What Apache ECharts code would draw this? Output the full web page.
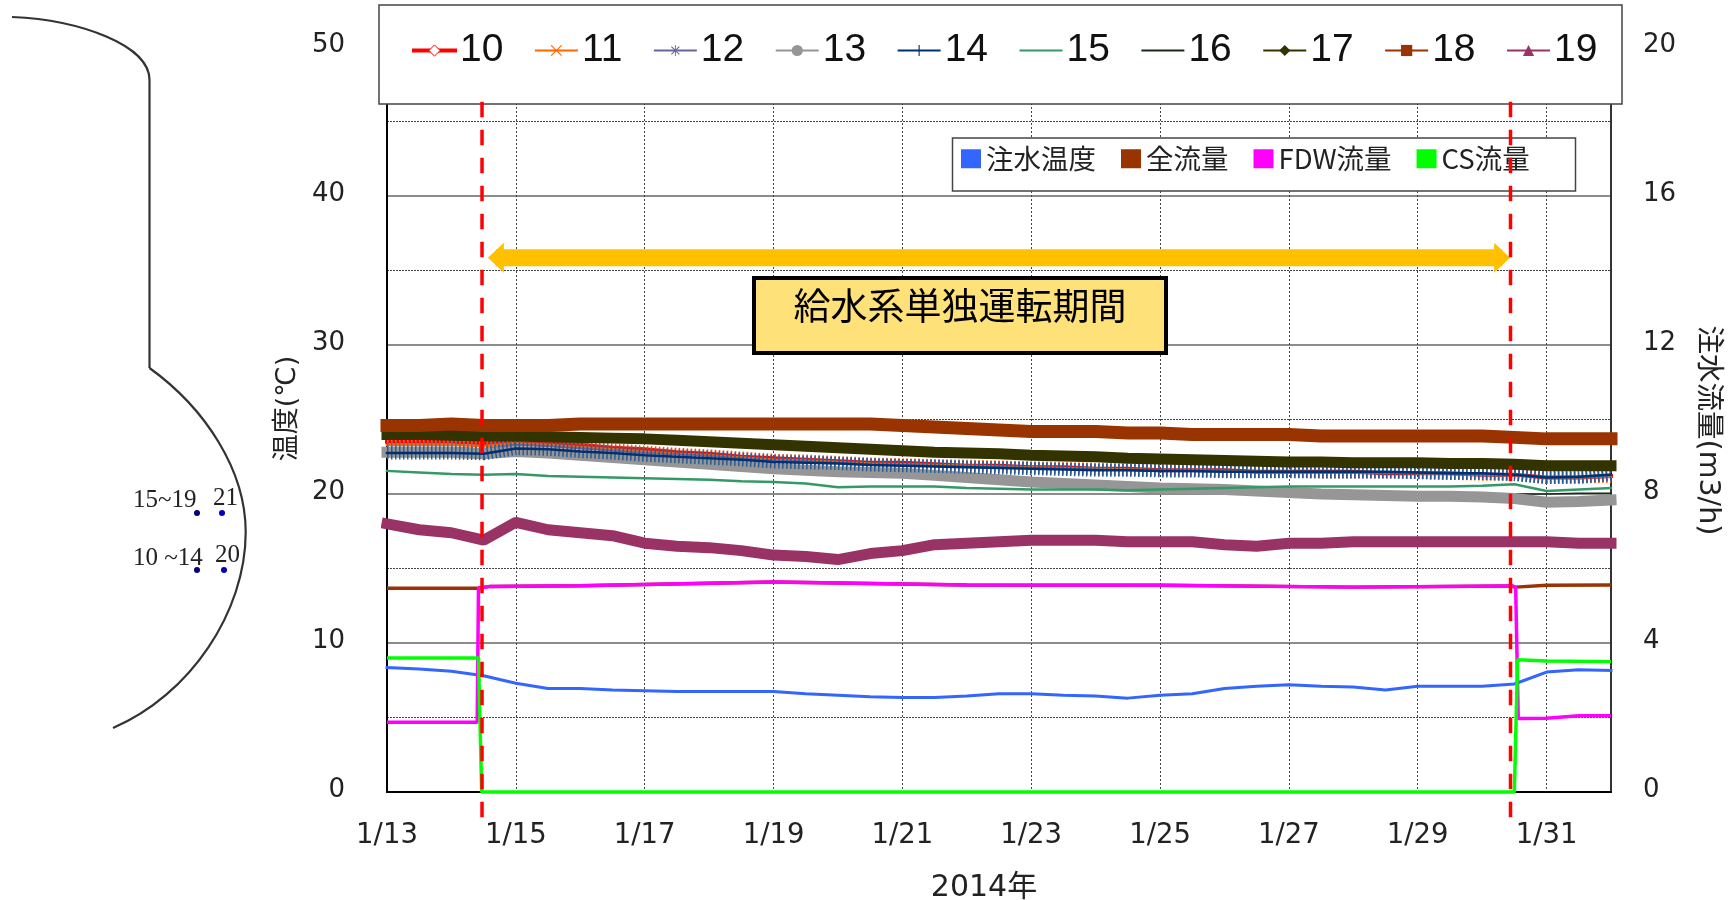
<!DOCTYPE html>
<html>
<head>
<meta charset="utf-8">
<title>給水系単独運転期間</title>
<script src="https://cdn.jsdelivr.net/npm/echarts@6/dist/echarts.min.js"></script>
<style>
  html, body { margin: 0; padding: 0; background: #fff; }
  #chart { width: 1729px; height: 900px; }
</style>
</head>
<body>
<div id="chart"></div>
<script>
// days after 1/13, one reading every half day
var days = [0, 0.5, 1, 1.5, 2, 2.5, 3, 3.5, 4, 4.5, 5, 5.5, 6, 6.5, 7, 7.5, 8, 8.5, 9, 9.5, 10, 10.5, 11, 11.5, 12, 12.5, 13, 13.5, 14, 14.5, 15, 15.5, 16, 16.5, 17, 17.5, 18, 18.5, 19];
var xTickLabels = ['1/13', '1/15', '1/17', '1/19', '1/21', '1/23', '1/25', '1/27', '1/29', '1/31'];

var t10 = [23.5, 23.5, 23.5, 23.4, 23.5, 23.4, 23.3, 23.1, 23.0, 22.8, 22.7, 22.5, 22.4, 22.3, 22.2, 22.1, 22.1, 22.0, 21.9, 21.9, 21.8, 21.8, 21.7, 21.7, 21.6, 21.6, 21.6, 21.5, 21.5, 21.5, 21.5, 21.4, 21.4, 21.4, 21.3, 21.3, 21.1, 21.1, 21.2];
var t11 = [23.3, 23.3, 23.3, 23.2, 23.4, 23.3, 23.15, 23.0, 22.85, 22.7, 22.6, 22.45, 22.3, 22.25, 22.15, 22.05, 22.0, 21.95, 21.9, 21.85, 21.8, 21.75, 21.7, 21.65, 21.6, 21.6, 21.55, 21.5, 21.5, 21.45, 21.45, 21.45, 21.4, 21.35, 21.3, 21.3, 21.1, 21.1, 21.15];
var t12 = [23.1, 23.1, 23.1, 23.0, 23.3, 23.2, 23.05, 22.9, 22.75, 22.65, 22.55, 22.4, 22.25, 22.2, 22.1, 22.0, 21.95, 21.9, 21.85, 21.8, 21.75, 21.7, 21.65, 21.6, 21.6, 21.55, 21.5, 21.5, 21.5, 21.45, 21.45, 21.45, 21.4, 21.35, 21.35, 21.3, 21.1, 21.1, 21.25];
var t13 = [22.8, 22.8, 22.8, 22.7, 22.85, 22.75, 22.6, 22.45, 22.3, 22.15, 22.0, 21.85, 21.7, 21.6, 21.5, 21.45, 21.4, 21.25, 21.1, 20.95, 20.8, 20.7, 20.6, 20.5, 20.4, 20.35, 20.3, 20.2, 20.1, 20.0, 19.95, 19.9, 19.85, 19.85, 19.8, 19.7, 19.45, 19.5, 19.6];
var t14 = [22.75, 22.75, 22.75, 22.7, 23.05, 23.0, 22.85, 22.75, 22.6, 22.5, 22.4, 22.3, 22.15, 22.1, 22.05, 21.95, 21.9, 21.85, 21.8, 21.75, 21.7, 21.65, 21.6, 21.6, 21.55, 21.55, 21.5, 21.5, 21.5, 21.5, 21.5, 21.5, 21.45, 21.4, 21.4, 21.3, 21.1, 21.15, 21.3];
var t15 = [21.55, 21.45, 21.35, 21.3, 21.35, 21.2, 21.15, 21.1, 21.05, 21.0, 20.95, 20.85, 20.8, 20.7, 20.45, 20.5, 20.5, 20.5, 20.4, 20.35, 20.3, 20.3, 20.3, 20.25, 20.3, 20.35, 20.4, 20.45, 20.5, 20.5, 20.5, 20.5, 20.5, 20.5, 20.55, 20.65, 20.2, 20.3, 20.4];
var t16 = [22.9, 22.9, 22.9, 22.8, 22.9, 22.8, 22.7, 22.5, 22.4, 22.2, 22.1, 21.9, 21.8, 21.7, 21.6, 21.5, 21.5, 21.3, 21.2, 21.0, 20.9, 20.8, 20.7, 20.6, 20.5, 20.4, 20.4, 20.3, 20.2, 20.1, 20.1, 20.0, 20.0, 20.0, 20.0, 20.0, 20.0, 20.05, 20.05];
var t17 = [24.0, 24.0, 23.95, 23.9, 23.9, 23.85, 23.8, 23.75, 23.7, 23.6, 23.5, 23.4, 23.3, 23.2, 23.1, 23.0, 22.9, 22.8, 22.75, 22.7, 22.6, 22.55, 22.5, 22.4, 22.35, 22.3, 22.25, 22.2, 22.15, 22.15, 22.1, 22.1, 22.1, 22.05, 22.05, 22.0, 21.9, 21.9, 21.9];
var t18 = [24.6, 24.6, 24.7, 24.6, 24.6, 24.6, 24.7, 24.7, 24.7, 24.7, 24.7, 24.7, 24.7, 24.7, 24.7, 24.7, 24.6, 24.5, 24.4, 24.3, 24.2, 24.2, 24.2, 24.1, 24.1, 24.0, 24.0, 24.0, 24.0, 23.9, 23.9, 23.9, 23.9, 23.9, 23.9, 23.8, 23.7, 23.7, 23.7];
var t19 = [18.0, 17.6, 17.4, 16.9, 18.1, 17.6, 17.4, 17.2, 16.7, 16.5, 16.4, 16.2, 15.9, 15.8, 15.6, 16.0, 16.2, 16.6, 16.7, 16.8, 16.9, 16.9, 16.9, 16.8, 16.8, 16.8, 16.6, 16.5, 16.7, 16.7, 16.8, 16.8, 16.8, 16.8, 16.8, 16.8, 16.8, 16.7, 16.7];
var injectTemp = [8.35, 8.25, 8.1, 7.8, 7.3, 6.95, 6.95, 6.85, 6.8, 6.75, 6.75, 6.75, 6.75, 6.6, 6.5, 6.4, 6.35, 6.35, 6.45, 6.6, 6.6, 6.5, 6.45, 6.3, 6.5, 6.6, 6.95, 7.1, 7.2, 7.1, 7.05, 6.85, 7.1, 7.1, 7.1, 7.25, 8.05, 8.2, 8.15];

// flows (m3/h), with their own x because of the steps at the switch-over
var totalDays = [0, 1.41, 1.6, 3, 6, 9, 12, 15, 17.46, 17.52, 18, 19];
var totalFlow = [5.47, 5.47, 5.52, 5.54, 5.64, 5.56, 5.55, 5.5, 5.53, 5.5, 5.55, 5.56];
var fdwDays = [0, 1.4, 1.42, 1.6, 3, 6, 9, 12, 15, 17.46, 17.52, 17.56, 18, 18.5, 19];
var fdwFlow = [1.87, 1.87, 5.47, 5.52, 5.54, 5.64, 5.56, 5.55, 5.5, 5.53, 5.5, 1.97, 1.98, 2.05, 2.05];
var csDays = [0, 1.42, 1.47, 17.5, 17.55, 18, 19];
var csFlow = [3.6, 3.6, 0, 0, 3.55, 3.52, 3.5];

// switch-over times and the period arrow
var switchDays = [1.475, 17.44];
var dashTemp = [-1.7, 46.4];
var arrowDays = [1.69, 17.31];
var arrowTemp = [35.85, 35.85];

function zipXY(xs, ys) {
  return xs.map(function (x, i) { return [x, ys[i]]; });
}

function lineSeries(name, ys, color, width, symbol) {
  return {
    name: name,
    type: 'line',
    data: zipXY(days, ys),
    symbol: symbol,
    showSymbol: false,
    clip: false,
    z: 3,
    itemStyle: { color: color },
    lineStyle: { color: color, width: width, cap: 'square', join: 'bevel' },
    emphasis: { disabled: true }
  };
}

// the dense hourly markers of 11, 12 and 14 read as fine vertical hatching
function hatchSeries(ys, color, width) {
  return {
    type: 'line',
    data: zipXY(days, ys),
    showSymbol: false,
    clip: false,
    z: 3,
    lineStyle: { color: color, width: width, type: [1.5, 2.5] }
  };
}

var plusIcon = 'path://M4.5 0H5.5V4.5H10V5.5H5.5V10H4.5V5.5H0V4.5H4.5Z';
var crossIcon = 'path://M0.7 0L5 4.3L9.3 0L10 0.7L5.7 5L10 9.3L9.3 10L5 5.7L0.7 10L0 9.3L4.3 5L0 0.7Z';
var starIcon = 'path://M4.6 0H5.4V3.9L8.2 1.1L8.9 1.8L6.1 4.6H10V5.4H6.1L8.9 8.2L8.2 8.9L5.4 6.1V10H4.6V6.1L1.8 8.9L1.1 8.2L3.9 5.4H0V4.6H3.9L1.1 1.8L1.8 1.1L4.6 3.9Z';

var series = [
  lineSeries('10', t10, '#ff0000', 4, 'diamond'),
  hatchSeries(t11, '#ff6600', 12),
  lineSeries('11', t11, '#ff6600', 2.5, crossIcon),
  hatchSeries(t12, '#666699', 12),
  lineSeries('12', t12, '#666699', 2, starIcon),
  lineSeries('16', t16, '#1a2a1a', 1.5, 'circle'),
  lineSeries('13', t13, '#969696', 11, 'circle'),
  hatchSeries(t14, '#2f5a8f', 13),
  lineSeries('14', t14, '#003070', 2.5, plusIcon),
  lineSeries('15', t15, '#339966', 2.5, 'circle'),
  lineSeries('17', t17, '#333300', 11, 'diamond'),
  lineSeries('18', t18, '#993300', 13, 'rect'),
  lineSeries('19', t19, '#993366', 11, 'triangle'),
  lineSeries('注水温度', injectTemp, '#3366ff', 3, 'none')
];

function flowSeries(name, xs, ys, color) {
  return {
    name: name,
    type: 'line',
    yAxisIndex: 1,
    data: zipXY(xs, ys),
    showSymbol: false,
    clip: false,
    z: 4,
    itemStyle: { color: color },
    lineStyle: { color: color, width: 3.5 }
  };
}
series.push(flowSeries('全流量', totalDays, totalFlow, '#993300'));
series.push(flowSeries('FDW流量', fdwDays, fdwFlow, '#ff00ff'));
series.push(flowSeries('CS流量', csDays, csFlow, '#00ff00'));

switchDays.forEach(function (d) {
  series.push({
    type: 'line',
    data: [[d, dashTemp[0]], [d, dashTemp[1]]],
    showSymbol: false,
    clip: false,
    z: 8,
    lineStyle: { color: '#ff0000', width: 3.5, type: [15.5, 12.5] }
  });
});

series.push({
  type: 'line',
  data: zipXY(arrowDays, arrowTemp),
  symbol: 'triangle',
  symbolSize: [30, 16],
  symbolRotate: function (v, params) { return params.dataIndex === 0 ? 90 : -90; },
  showAllSymbol: true,
  clip: false,
  z: 5,
  itemStyle: { color: '#ffc000' },
  lineStyle: { color: '#ffc000', width: 17 }
});

var nameFamily = 'DejaVu Sans, Noto Sans CJK JP';

// vessel sketch on the left
var outlineStyle = { stroke: '#333', lineWidth: 2.2, fill: 'none' };
var sketch = [
  { type: 'bezierCurve', shape: { x1: 12, y1: 17, cpx1: 80, cpy1: 20, cpx2: 149.5, cpy2: 45, x2: 149.5, y2: 80 }, style: outlineStyle },
  { type: 'line', shape: { x1: 149.5, y1: 80, x2: 149.5, y2: 368 }, style: outlineStyle },
  { type: 'bezierCurve', shape: { x1: 149.5, y1: 368, cpx1: 205, cpy1: 408, cpx2: 245.7, cpy2: 470, x2: 245.7, y2: 532 }, style: outlineStyle },
  { type: 'bezierCurve', shape: { x1: 245.7, y1: 532, cpx1: 245.7, cpy1: 612, cpx2: 190, cpy2: 695, x2: 113, y2: 728 }, style: outlineStyle }
];
[['15~19', 133, 500], ['21', 213, 498], ['10 ~14', 133, 558], ['20', 215, 555]].forEach(function (t) {
  sketch.push({
    type: 'text', x: t[1], y: t[2],
    style: { text: t[0], fontFamily: 'Liberation Serif', fontSize: 25, fill: '#222', textVerticalAlign: 'middle' }
  });
});
[[197, 513, '#000080'], [222, 513, '#0000c0'], [197, 570, '#000080'], [224, 570, '#0000c0']].forEach(function (d) {
  sketch.push({ type: 'circle', shape: { cx: d[0], cy: d[1], r: 3 }, style: { fill: d[2] } });
});

var frames = [
  { type: 'rect', z: 6, shape: { x: 379, y: 5, width: 1243, height: 99 }, style: { fill: '#fff', stroke: '#444', lineWidth: 1.5 } },
  { type: 'rect', z: 6, shape: { x: 952.5, y: 138, width: 623, height: 53 }, style: { fill: '#fff', stroke: '#444', lineWidth: 1.5 } },
  { type: 'rect', z: 6, shape: { x: 754, y: 278, width: 412, height: 75 }, style: { fill: '#ffe17a', stroke: '#000', lineWidth: 4 } },
  {
    type: 'text', z: 7, x: 960, y: 306,
    style: { text: '給水系単独運転期間', fontFamily: 'Noto Sans CJK JP', fontSize: 37, fill: '#000', textAlign: 'center', textVerticalAlign: 'middle' }
  }
];

var option = {
  backgroundColor: '#fff',
  animation: false,
  textStyle: { fontFamily: 'Noto Sans CJK JP' },
  grid: { left: 387, right: 118, top: 47, bottom: 108, containLabel: false, outerBoundsMode: 'none' },
  legend: [{
    left: 412,
    top: 31,
    padding: 0,
    z: 7,
    itemWidth: 41,
    itemHeight: 14,
    itemGap: 31.5,
    selectedMode: false,
    textStyle: { fontFamily: 'Liberation Sans', fontSize: 39, color: '#111', padding: [0, 0, 22, 0] },
    lineStyle: { width: 2 },
    data: [
      { name: '10', lineStyle: { width: 4 }, itemStyle: { color: '#fff', borderColor: '#ff0000', borderWidth: 1 } },
      '11', '12', '13', '14',
      { name: '15', itemStyle: { color: 'transparent' } },
      { name: '16', itemStyle: { color: 'transparent' } },
      '17', '18', '19'
    ]
  }, {
    left: 961,
    top: 145,
    padding: 0,
    z: 7,
    itemWidth: 20,
    itemHeight: 19,
    itemGap: 25,
    icon: 'rect',
    selectedMode: false,
    textStyle: { fontFamily: 'Noto Sans CJK JP', fontSize: 27.5, color: '#222' },
    data: ['注水温度', '全流量', 'FDW流量', 'CS流量']
  }],
  xAxis: {
    type: 'value',
    min: 0,
    max: 19,
    interval: 2,
    name: '2014年',
    nameLocation: 'middle',
    nameGap: 81,
    nameTextStyle: { fontFamily: nameFamily, fontSize: 30, color: '#222', padding: [0, 30, 0, 0] },
    axisLine: { lineStyle: { color: '#000', width: 2 } },
    axisTick: { show: false },
    axisLabel: {
      fontFamily: 'DejaVu Sans',
      fontSize: 27.5,
      color: '#222',
      margin: 30,
      showMaxLabel: false,
      formatter: function (v) { return xTickLabels[v / 2]; }
    },
    splitLine: { show: true, lineStyle: { color: '#444', width: 1, type: [2, 2] } }
  },
  yAxis: [{
    type: 'value',
    min: 0,
    max: 50,
    interval: 10,
    name: '温度(℃)',
    nameLocation: 'middle',
    nameRotate: 90,
    nameGap: 85,
    nameTextStyle: { fontFamily: nameFamily, fontSize: 27, color: '#222', padding: [0, 0, 0, 22] },
    axisLine: { show: true, lineStyle: { color: '#000', width: 2 } },
    axisTick: { show: false },
    axisLabel: { fontFamily: 'DejaVu Sans', fontSize: 26, color: '#222', margin: 42, verticalAlign: 'bottom', lineHeight: 4 },
    splitLine: { show: true, lineStyle: { color: '#666', width: 1.5 } },
    minorTick: { show: false, splitNumber: 2 },
    minorSplitLine: { show: true, lineStyle: { color: '#444', width: 1, type: [2, 1] } }
  }, {
    type: 'value',
    min: 0,
    max: 20,
    interval: 4,
    position: 'right',
    name: '注水流量(m3/h)',
    nameLocation: 'middle',
    nameRotate: -90,
    nameGap: 82,
    nameTextStyle: { fontFamily: nameFamily, fontSize: 28.5, color: '#222', padding: [0, 0, 0, 22] },
    axisLine: { show: true, lineStyle: { color: '#333', width: 2 } },
    axisTick: { show: false },
    axisLabel: { fontFamily: 'DejaVu Sans', fontSize: 26, color: '#222', margin: 32, verticalAlign: 'bottom', lineHeight: 4 },
    splitLine: { show: false }
  }],
  series: series,
  graphic: sketch.concat(frames)
};

var chart = echarts.init(document.getElementById('chart'));
chart.setOption(option);
</script>
</body>
</html>
